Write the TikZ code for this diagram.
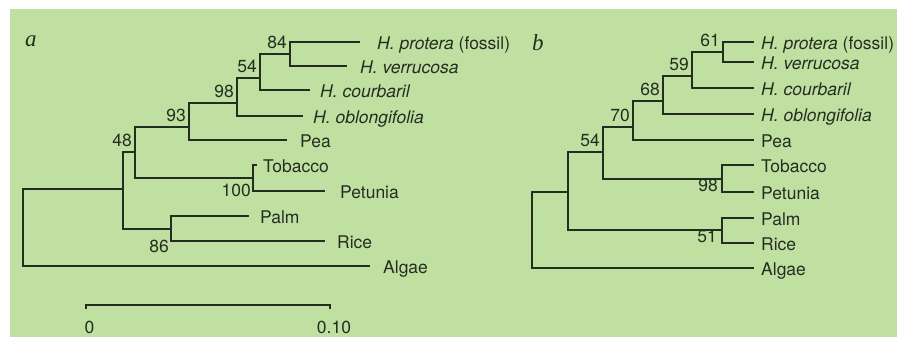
\documentclass[tikz,border=0pt]{standalone}
\usepackage{fontspec}
\setsansfont{TeX Gyre Heros}
\newfontfamily\panelfont{Liberation Serif}
\usepackage{tikz}

\definecolor{paper}{RGB}{192,224,162}
\definecolor{ink}{RGB}{36,46,32}

\begin{document}
\begin{tikzpicture}[x=1pt, y=-1pt, font=\sffamily\fontsize{17.5}{19}\selectfont]
    \tikzstyle{branch} = [draw=ink, line width=1.4pt]
    \tikzstyle{leaf} = [anchor=base west, inner sep=0pt, text=ink, yshift=-7.5pt]
    \tikzstyle{boot} = [anchor=base east, inner sep=0pt, text=ink, xshift=-3pt, yshift=5.5pt]
    \tikzstyle{bootlow} = [anchor=base east, inner sep=0pt, text=ink]
    \tikzstyle{panel} = [anchor=base west, inner sep=0pt, text=ink,
	font=\panelfont\itshape\fontsize{23}{25}\selectfont]
	\useasboundingbox (0,0) rectangle (897,337);
	\fill[paper] (10,9) rectangle (897,337);
	\begin{scope}
		% tree a
		\coordinate (aRoot) at (23,228);
		\coordinate (aLow) at (123,189);
		\coordinate (a48) at (135,152);
		\coordinate (a93) at (189,127);
		\coordinate (a98) at (237,103);
		\coordinate (a54) at (260,78);
		\coordinate (a84) at (290,54);
		\coordinate (a100) at (253,178);
		\coordinate (a86) at (171,229);
		\coordinate (aPro) at (360,42);
		\coordinate (aVer) at (347,66);
		\coordinate (aCou) at (310,90);
		\coordinate (aObl) at (303,116);
		\coordinate (aPea) at (287,140);
		\coordinate (aTob) at (257,165);
		\coordinate (aPet) at (325,191);
		\coordinate (aPal) at (249,216);
		\coordinate (aRic) at (325,241);
		\coordinate (aAlg) at (370,266);
		
		\draw[branch]
			(aRoot) |- (aLow) (aRoot) |- (aAlg)
			(aLow) |- (a48) (aLow) |- (a86)
			(a48) |- (a93) (a48) |- (a100)
			(a93) |- (a98) (a93) |- (aPea)
			(a98) |- (a54) (a98) |- (aObl)
			(a54) |- (a84) (a54) |- (aCou)
			(a84) |- (aPro) (a84) |- (aVer)
			(a100) |- (aTob) (a100) |- (aPet)
			(a86) |- (aPal) (a86) |- (aRic);
		
		\node[leaf] (aProL) at ([xshift=17pt]aPro) {\textit{H. protera} (fossil)};
		\node[leaf] (aVerL) at ([xshift=13pt]aVer) {\textit{H. verrucosa}};
		\node[leaf] (aCouL) at ([xshift=10pt]aCou) {\textit{H. courbaril}};
		\node[leaf] (aOblL) at ([xshift=10pt]aObl) {\textit{H. oblongifolia}};
		\node[leaf] (aPeaL) at ([xshift=13pt]aPea) {Pea};
		\node[leaf] (aTobL) at ([xshift=6pt]aTob) {Tobacco};
		\node[leaf] (aPetL) at ([xshift=15pt]aPet) {Petunia};
		\node[leaf] (aPalL) at ([xshift=11pt]aPal) {Palm};
		\node[leaf] (aRicL) at ([xshift=12pt]aRic) {Rice};
		\node[leaf] (aAlgL) at ([xshift=13pt]aAlg) {Algae};
		
		\node[boot] (aB84) at (a84) {84};
		\node[boot] (aB54) at (a54) {54};
		\node[boot] (aB98) at (a98) {98};
		\node[boot] (aB93) at (a93) {93};
		\node[boot] (aB48) at (a48) {48};
		\node[bootlow, xshift=-2pt, yshift=-5pt] (aB100) at (a100 |- aPet) {100};
		\node[bootlow, xshift=-2pt, yshift=-11pt] (aB86) at (a86 |- aRic) {86};
		
		\node[panel] (aTag) at (25,47) {a};
		
		% scale bar
		\coordinate (s0) at (86,305);
		\coordinate (s1) at (330,305);
		\draw[branch] ([yshift=-4pt]s0) -- (s0) -- (s1) -- ([yshift=-4pt]s1);
		\node[anchor=base, inner sep=0pt, text=ink] (s0L) at (89.5,333) {0};
		\node[anchor=base, inner sep=0pt, text=ink] (s1L) at (334,333) {0.10};
	\end{scope}
	\begin{scope}
		% tree b
		\coordinate (bRoot) at (532,230);
		\coordinate (bLow) at (568,192);
		\coordinate (b54) at (603,152);
		\coordinate (b70) at (633,127);
		\coordinate (b68) at (663,101);
		\coordinate (b59) at (692,76);
		\coordinate (b61) at (723,52);
		\coordinate (b98) at (722,179);
		\coordinate (b51) at (722,230);
		\coordinate (bPro) at (754,42);
		\coordinate (bVer) at (754,62);
		\coordinate (bCou) at (754,88);
		\coordinate (bObl) at (754,114);
		\coordinate (bPea) at (754,140);
		\coordinate (bTob) at (754,165);
		\coordinate (bPet) at (754,192);
		\coordinate (bPal) at (754,218);
		\coordinate (bRic) at (754,243);
		\coordinate (bAlg) at (754,268);
		
		\draw[branch]
			(bRoot) |- (bLow) (bRoot) |- (bAlg)
			(bLow) |- (b54) (bLow) |- (b51)
			(b54) |- (b70) (b54) |- (b98)
			(b70) |- (b68) (b70) |- (bPea)
			(b68) |- (b59) (b68) |- (bObl)
			(b59) |- (b61) (b59) |- (bCou)
			(b61) |- (bPro) (b61) |- (bVer)
			(b98) |- (bTob) (b98) |- (bPet)
			(b51) |- (bPal) (b51) |- (bRic);
		
		\node[leaf] (bProL) at ([xshift=7pt]bPro) {\textit{H. protera} (fossil)};
		\node[leaf] (bVerL) at ([xshift=7pt]bVer) {\textit{H. verrucosa}};
		\node[leaf] (bCouL) at ([xshift=7pt]bCou) {\textit{H. courbaril}};
		\node[leaf] (bOblL) at ([xshift=7pt]bObl) {\textit{H. oblongifolia}};
		\node[leaf] (bPeaL) at ([xshift=7pt]bPea) {Pea};
		\node[leaf] (bTobL) at ([xshift=7pt]bTob) {Tobacco};
		\node[leaf] (bPetL) at ([xshift=7pt]bPet) {Petunia};
		\node[leaf] (bPalL) at ([xshift=7pt]bPal) {Palm};
		\node[leaf] (bRicL) at ([xshift=7pt]bRic) {Rice};
		\node[leaf] (bAlgL) at ([xshift=7pt]bAlg) {Algae};
		
		\node[boot, yshift=-0.5pt] (bB61) at (b61) {61};
		\node[boot] (bB59) at (b59) {59};
		\node[boot] (bB68) at (b68) {68};
		\node[boot] (bB70) at (b70) {70};
		\node[boot] (bB54) at (b54) {54};
		\node[bootlow, xshift=-4pt, yshift=1pt] (bB98) at (b98 |- bPet) {98};
		\node[bootlow, xshift=-5pt, yshift=1pt] (bB51) at (b51 |- bRic) {51};
		
		\node[panel] (bTag) at (532,51) {b};
	\end{scope}
\end{tikzpicture}
\end{document}
